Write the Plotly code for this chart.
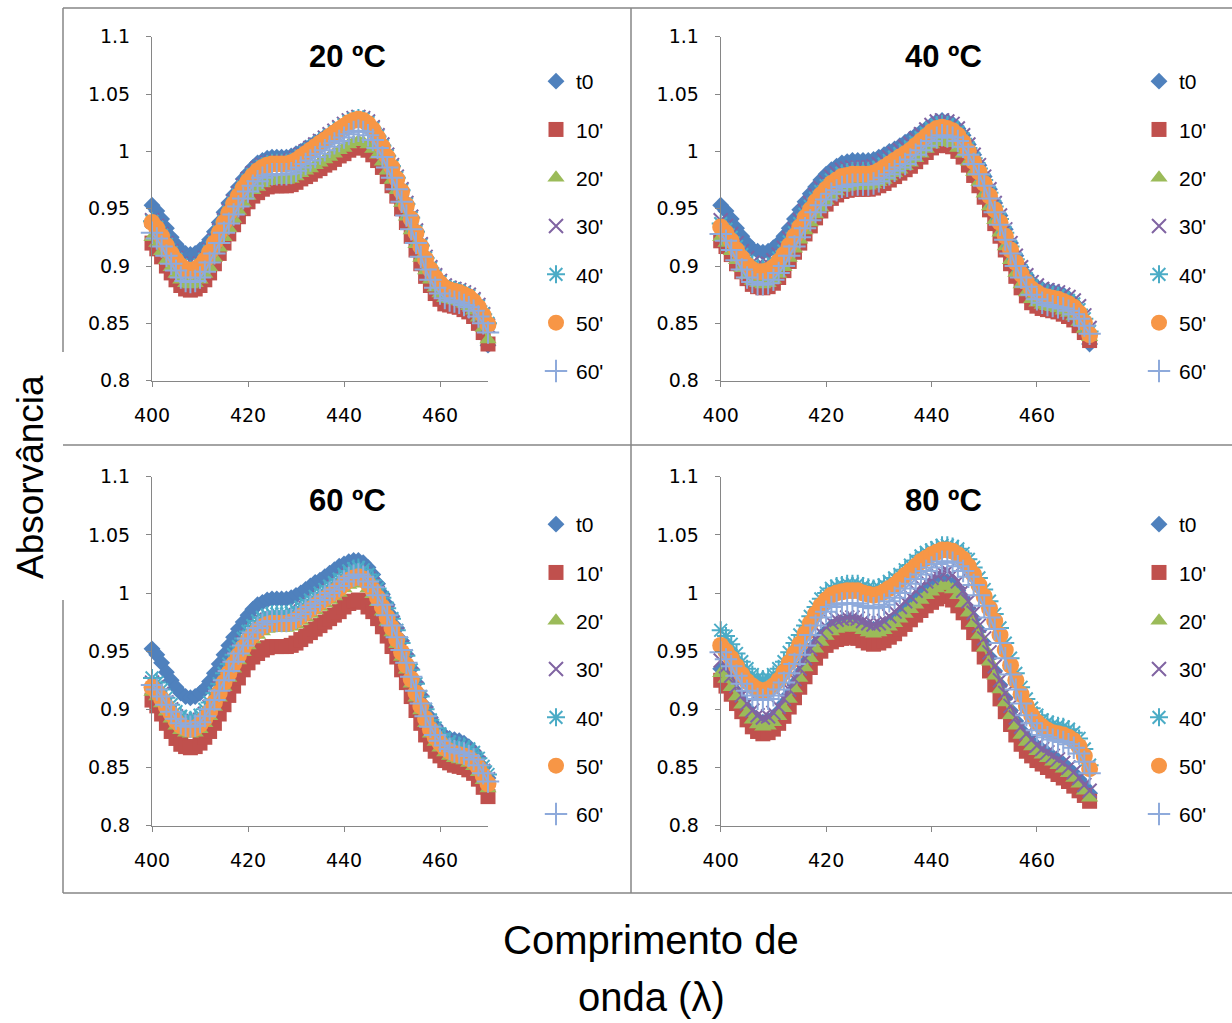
import plotly.graph_objects as go

# ---------------------------------------------------------------- data ----
WAVELENGTH_NM = list(range(400, 471))
SERIES_LABELS = ["t0", "10'", "20'", "30'", "40'", "50'", "60'"]
PANEL_TITLES = ["20 ºC", "40 ºC", "60 ºC", "80 ºC"]
X_TICKS = [400, 420, 440, 460]
Y_TICKS = [0.8, 0.85, 0.9, 0.95, 1.0, 1.05, 1.1]
Y_TICK_TEXT = ["0.8", "0.85", "0.9", "0.95", "1", "1.05", "1.1"]
Y_TITLE = "Absorvância"
X_TITLE_LINES = ["Comprimento de", "onda (λ)"]

# 20 ºC
T20_T0 = [0.953, 0.948, 0.941, 0.933, 0.925, 0.919, 0.914, 0.911, 0.910, 0.911,
          0.914, 0.917, 0.923, 0.930, 0.938, 0.947, 0.955, 0.962, 0.969, 0.976,
          0.981, 0.986, 0.990, 0.992, 0.994, 0.995, 0.995, 0.995, 0.995, 0.996,
          0.998, 1.000, 1.003, 1.005, 1.008, 1.010, 1.013, 1.015, 1.018, 1.020,
          1.023, 1.025, 1.027, 1.028, 1.027, 1.025, 1.021, 1.014, 1.006, 0.997,
          0.988, 0.978, 0.967, 0.955, 0.943, 0.931, 0.919, 0.908, 0.899, 0.892,
          0.887, 0.883, 0.881, 0.880, 0.879, 0.877, 0.875, 0.870, 0.862, 0.849,
          0.831]
T20_10 = [0.920, 0.915, 0.908, 0.900, 0.894, 0.888, 0.883, 0.880, 0.879, 0.880,
          0.883, 0.888, 0.894, 0.902, 0.911, 0.920, 0.928, 0.936, 0.943, 0.950,
          0.956, 0.961, 0.964, 0.967, 0.969, 0.970, 0.970, 0.970, 0.970, 0.971,
          0.973, 0.976, 0.978, 0.980, 0.983, 0.985, 0.988, 0.990, 0.993, 0.996,
          0.998, 1.001, 1.003, 1.004, 1.003, 1.001, 0.997, 0.992, 0.986, 0.978,
          0.970, 0.961, 0.950, 0.938, 0.926, 0.914, 0.902, 0.891, 0.883, 0.876,
          0.871, 0.867, 0.866, 0.865, 0.864, 0.862, 0.860, 0.856, 0.850, 0.842,
          0.832]
T20_20 = [0.925, 0.920, 0.913, 0.905, 0.899, 0.893, 0.888, 0.885, 0.884, 0.885,
          0.888, 0.893, 0.899, 0.907, 0.916, 0.925, 0.933, 0.941, 0.948, 0.955,
          0.961, 0.966, 0.969, 0.972, 0.974, 0.975, 0.975, 0.975, 0.975, 0.976,
          0.978, 0.981, 0.983, 0.985, 0.988, 0.990, 0.993, 0.995, 0.998, 1.001,
          1.003, 1.006, 1.008, 1.009, 1.008, 1.006, 1.002, 0.997, 0.991, 0.983,
          0.975, 0.966, 0.955, 0.943, 0.931, 0.919, 0.907, 0.896, 0.888, 0.881,
          0.876, 0.872, 0.871, 0.870, 0.869, 0.867, 0.865, 0.861, 0.855, 0.846,
          0.836]
T20_30 = [0.940, 0.935, 0.928, 0.920, 0.913, 0.907, 0.902, 0.899, 0.898, 0.899,
          0.902, 0.907, 0.914, 0.922, 0.931, 0.940, 0.948, 0.956, 0.963, 0.970,
          0.976, 0.981, 0.985, 0.988, 0.990, 0.991, 0.991, 0.991, 0.991, 0.992,
          0.994, 0.997, 1.000, 1.003, 1.006, 1.009, 1.012, 1.015, 1.018, 1.021,
          1.024, 1.027, 1.029, 1.030, 1.029, 1.026, 1.021, 1.014, 1.006, 0.997,
          0.988, 0.978, 0.967, 0.955, 0.943, 0.931, 0.919, 0.908, 0.899, 0.892,
          0.887, 0.883, 0.881, 0.880, 0.879, 0.877, 0.875, 0.871, 0.866, 0.858,
          0.848]
T20_40 = [0.939, 0.934, 0.927, 0.919, 0.912, 0.906, 0.901, 0.898, 0.897, 0.898,
          0.901, 0.906, 0.913, 0.921, 0.930, 0.939, 0.947, 0.955, 0.962, 0.969,
          0.975, 0.980, 0.984, 0.987, 0.989, 0.990, 0.990, 0.990, 0.990, 0.991,
          0.993, 0.996, 0.999, 1.002, 1.005, 1.008, 1.011, 1.014, 1.017, 1.020,
          1.023, 1.026, 1.028, 1.029, 1.028, 1.025, 1.020, 1.013, 1.005, 0.996,
          0.987, 0.977, 0.966, 0.954, 0.942, 0.930, 0.918, 0.907, 0.898, 0.891,
          0.886, 0.882, 0.880, 0.879, 0.878, 0.876, 0.874, 0.870, 0.865, 0.858,
          0.850]
T20_50 = [0.938, 0.933, 0.926, 0.918, 0.911, 0.905, 0.900, 0.897, 0.896, 0.897,
          0.900, 0.905, 0.912, 0.920, 0.929, 0.938, 0.946, 0.954, 0.961, 0.968,
          0.974, 0.979, 0.983, 0.986, 0.988, 0.989, 0.989, 0.989, 0.989, 0.990,
          0.992, 0.995, 0.998, 1.001, 1.004, 1.007, 1.010, 1.013, 1.016, 1.019,
          1.022, 1.025, 1.027, 1.028, 1.027, 1.024, 1.019, 1.012, 1.004, 0.995,
          0.986, 0.976, 0.965, 0.953, 0.941, 0.929, 0.917, 0.906, 0.897, 0.890,
          0.885, 0.881, 0.879, 0.878, 0.877, 0.875, 0.873, 0.869, 0.864, 0.857,
          0.849]
T20_60 = [0.929, 0.924, 0.917, 0.909, 0.902, 0.896, 0.890, 0.887, 0.886, 0.887,
          0.890, 0.895, 0.903, 0.911, 0.920, 0.929, 0.937, 0.945, 0.952, 0.959,
          0.965, 0.970, 0.974, 0.977, 0.979, 0.980, 0.980, 0.980, 0.980, 0.981,
          0.983, 0.986, 0.989, 0.992, 0.995, 0.998, 1.001, 1.004, 1.007, 1.009,
          1.012, 1.015, 1.017, 1.018, 1.017, 1.014, 1.010, 1.003, 0.995, 0.986,
          0.977, 0.967, 0.956, 0.944, 0.932, 0.920, 0.908, 0.897, 0.888, 0.881,
          0.876, 0.872, 0.870, 0.869, 0.868, 0.866, 0.864, 0.861, 0.856, 0.850,
          0.842]

# 40 ºC
T40_T0 = [0.953, 0.948, 0.941, 0.933, 0.926, 0.920, 0.915, 0.913, 0.912, 0.913,
          0.916, 0.920, 0.926, 0.933, 0.941, 0.949, 0.956, 0.963, 0.969, 0.975,
          0.980, 0.984, 0.987, 0.990, 0.991, 0.992, 0.992, 0.992, 0.992, 0.993,
          0.995, 0.997, 1.000, 1.002, 1.005, 1.008, 1.011, 1.014, 1.017, 1.020,
          1.023, 1.026, 1.027, 1.026, 1.024, 1.020, 1.014, 1.006, 0.997, 0.988,
          0.978, 0.967, 0.955, 0.944, 0.932, 0.920, 0.909, 0.899, 0.892, 0.886,
          0.882, 0.880, 0.879, 0.878, 0.877, 0.875, 0.872, 0.868, 0.861, 0.849,
          0.832]
T40_10 = [0.922, 0.917, 0.910, 0.902, 0.895, 0.889, 0.884, 0.882, 0.881, 0.882,
          0.885, 0.890, 0.896, 0.904, 0.912, 0.920, 0.928, 0.935, 0.942, 0.948,
          0.954, 0.959, 0.962, 0.965, 0.966, 0.967, 0.967, 0.967, 0.967, 0.968,
          0.970, 0.972, 0.975, 0.978, 0.981, 0.984, 0.987, 0.991, 0.995, 0.999,
          1.003, 1.005, 1.006, 1.005, 1.004, 1.000, 0.995, 0.988, 0.979, 0.970,
          0.960, 0.949, 0.937, 0.926, 0.914, 0.902, 0.891, 0.881, 0.874, 0.868,
          0.865, 0.863, 0.862, 0.861, 0.860, 0.858, 0.856, 0.853, 0.848, 0.842,
          0.835]
T40_20 = [0.925, 0.920, 0.913, 0.905, 0.898, 0.892, 0.887, 0.885, 0.884, 0.885,
          0.888, 0.893, 0.899, 0.907, 0.915, 0.923, 0.931, 0.938, 0.945, 0.951,
          0.957, 0.962, 0.965, 0.968, 0.969, 0.970, 0.970, 0.970, 0.970, 0.971,
          0.973, 0.975, 0.978, 0.981, 0.984, 0.987, 0.990, 0.994, 0.998, 1.002,
          1.006, 1.008, 1.009, 1.008, 1.007, 1.003, 0.998, 0.991, 0.982, 0.973,
          0.963, 0.952, 0.940, 0.929, 0.917, 0.905, 0.894, 0.884, 0.877, 0.871,
          0.868, 0.866, 0.865, 0.864, 0.863, 0.861, 0.859, 0.856, 0.851, 0.845,
          0.838]
T40_30 = [0.940, 0.935, 0.928, 0.920, 0.913, 0.907, 0.903, 0.901, 0.901, 0.902,
          0.905, 0.910, 0.916, 0.924, 0.932, 0.940, 0.948, 0.955, 0.962, 0.968,
          0.973, 0.978, 0.981, 0.984, 0.985, 0.986, 0.986, 0.986, 0.986, 0.987,
          0.989, 0.992, 0.995, 0.998, 1.001, 1.004, 1.007, 1.011, 1.015, 1.019,
          1.023, 1.026, 1.027, 1.026, 1.024, 1.020, 1.014, 1.006, 0.997, 0.988,
          0.978, 0.967, 0.955, 0.944, 0.932, 0.920, 0.909, 0.899, 0.892, 0.886,
          0.883, 0.880, 0.879, 0.878, 0.877, 0.875, 0.873, 0.870, 0.865, 0.857,
          0.846]
T40_40 = [0.937, 0.932, 0.925, 0.917, 0.910, 0.904, 0.900, 0.898, 0.898, 0.899,
          0.902, 0.907, 0.913, 0.921, 0.929, 0.937, 0.945, 0.952, 0.959, 0.965,
          0.970, 0.975, 0.978, 0.981, 0.982, 0.983, 0.983, 0.983, 0.983, 0.984,
          0.986, 0.989, 0.992, 0.995, 0.998, 1.001, 1.004, 1.008, 1.012, 1.016,
          1.020, 1.023, 1.024, 1.023, 1.021, 1.017, 1.011, 1.003, 0.994, 0.985,
          0.975, 0.964, 0.952, 0.941, 0.929, 0.917, 0.906, 0.896, 0.889, 0.883,
          0.880, 0.877, 0.876, 0.875, 0.874, 0.872, 0.870, 0.867, 0.862, 0.854,
          0.843]
T40_50 = [0.934, 0.929, 0.922, 0.914, 0.907, 0.901, 0.897, 0.895, 0.895, 0.896,
          0.899, 0.904, 0.910, 0.918, 0.926, 0.934, 0.942, 0.949, 0.956, 0.962,
          0.967, 0.972, 0.975, 0.978, 0.979, 0.980, 0.980, 0.980, 0.980, 0.981,
          0.983, 0.986, 0.989, 0.992, 0.995, 0.998, 1.001, 1.005, 1.009, 1.013,
          1.017, 1.020, 1.021, 1.020, 1.018, 1.014, 1.008, 1.000, 0.991, 0.982,
          0.972, 0.961, 0.949, 0.938, 0.926, 0.914, 0.903, 0.893, 0.886, 0.880,
          0.877, 0.874, 0.873, 0.872, 0.871, 0.869, 0.867, 0.864, 0.859, 0.851,
          0.840]
T40_60 = [0.928, 0.922, 0.914, 0.905, 0.897, 0.890, 0.886, 0.884, 0.884, 0.885,
          0.888, 0.894, 0.900, 0.909, 0.917, 0.925, 0.933, 0.940, 0.947, 0.953,
          0.958, 0.963, 0.966, 0.969, 0.970, 0.971, 0.971, 0.971, 0.971, 0.972,
          0.974, 0.977, 0.980, 0.983, 0.986, 0.989, 0.993, 0.997, 1.001, 1.005,
          1.009, 1.012, 1.014, 1.013, 1.012, 1.009, 1.004, 0.997, 0.989, 0.980,
          0.970, 0.959, 0.947, 0.936, 0.923, 0.911, 0.900, 0.890, 0.882, 0.875,
          0.871, 0.868, 0.866, 0.865, 0.864, 0.863, 0.861, 0.858, 0.854, 0.848,
          0.841]

# 60 ºC
T60_T0 = [0.952, 0.947, 0.940, 0.932, 0.925, 0.919, 0.914, 0.911, 0.910, 0.911,
          0.914, 0.918, 0.924, 0.931, 0.939, 0.947, 0.955, 0.962, 0.969, 0.975,
          0.981, 0.986, 0.990, 0.992, 0.994, 0.995, 0.995, 0.995, 0.995, 0.996,
          0.998, 1.000, 1.003, 1.006, 1.009, 1.011, 1.014, 1.017, 1.020, 1.023,
          1.025, 1.027, 1.028, 1.028, 1.026, 1.022, 1.016, 1.008, 0.999, 0.990,
          0.980, 0.970, 0.959, 0.947, 0.935, 0.923, 0.912, 0.902, 0.893, 0.886,
          0.881, 0.877, 0.875, 0.874, 0.873, 0.871, 0.868, 0.864, 0.858, 0.850,
          0.841]
T60_10 = [0.908, 0.903, 0.896, 0.888, 0.881, 0.875, 0.870, 0.868, 0.867, 0.868,
          0.871, 0.876, 0.881, 0.888, 0.896, 0.904, 0.912, 0.920, 0.927, 0.934,
          0.940, 0.945, 0.948, 0.951, 0.953, 0.954, 0.954, 0.954, 0.954, 0.955,
          0.957, 0.960, 0.963, 0.966, 0.969, 0.972, 0.975, 0.978, 0.981, 0.984,
          0.988, 0.991, 0.993, 0.994, 0.992, 0.988, 0.984, 0.978, 0.971, 0.963,
          0.954, 0.945, 0.934, 0.923, 0.911, 0.899, 0.888, 0.878, 0.870, 0.864,
          0.860, 0.856, 0.854, 0.852, 0.851, 0.850, 0.848, 0.845, 0.840, 0.833,
          0.825]
T60_20 = [0.915, 0.911, 0.905, 0.898, 0.892, 0.886, 0.882, 0.880, 0.879, 0.880,
          0.883, 0.888, 0.894, 0.902, 0.910, 0.919, 0.927, 0.935, 0.942, 0.949,
          0.955, 0.960, 0.964, 0.967, 0.969, 0.970, 0.970, 0.970, 0.970, 0.971,
          0.973, 0.976, 0.979, 0.982, 0.985, 0.988, 0.991, 0.994, 0.997, 1.000,
          1.004, 1.007, 1.009, 1.010, 1.008, 1.004, 0.999, 0.992, 0.984, 0.975,
          0.966, 0.956, 0.945, 0.934, 0.922, 0.910, 0.899, 0.888, 0.879, 0.872,
          0.867, 0.863, 0.860, 0.858, 0.857, 0.856, 0.854, 0.851, 0.846, 0.839,
          0.832]
T60_30 = [0.923, 0.919, 0.913, 0.906, 0.900, 0.894, 0.890, 0.888, 0.887, 0.888,
          0.891, 0.896, 0.902, 0.910, 0.918, 0.927, 0.935, 0.943, 0.950, 0.957,
          0.963, 0.968, 0.972, 0.975, 0.977, 0.978, 0.978, 0.978, 0.978, 0.979,
          0.981, 0.984, 0.987, 0.990, 0.993, 0.996, 0.999, 1.002, 1.005, 1.008,
          1.012, 1.015, 1.017, 1.018, 1.016, 1.012, 1.007, 1.000, 0.992, 0.983,
          0.974, 0.964, 0.953, 0.942, 0.930, 0.918, 0.907, 0.896, 0.887, 0.880,
          0.875, 0.871, 0.868, 0.866, 0.865, 0.864, 0.862, 0.859, 0.854, 0.847,
          0.840]
T60_40 = [0.927, 0.923, 0.917, 0.910, 0.904, 0.898, 0.894, 0.892, 0.891, 0.892,
          0.895, 0.900, 0.906, 0.914, 0.922, 0.931, 0.939, 0.947, 0.954, 0.961,
          0.967, 0.972, 0.976, 0.979, 0.981, 0.982, 0.982, 0.982, 0.982, 0.983,
          0.985, 0.988, 0.991, 0.994, 0.997, 1.000, 1.003, 1.006, 1.009, 1.012,
          1.016, 1.019, 1.021, 1.022, 1.020, 1.016, 1.011, 1.004, 0.996, 0.987,
          0.978, 0.968, 0.957, 0.946, 0.934, 0.922, 0.911, 0.900, 0.891, 0.884,
          0.879, 0.875, 0.872, 0.870, 0.869, 0.868, 0.866, 0.863, 0.858, 0.851,
          0.844]
T60_50 = [0.919, 0.915, 0.909, 0.902, 0.896, 0.890, 0.886, 0.884, 0.883, 0.884,
          0.887, 0.892, 0.898, 0.906, 0.914, 0.923, 0.931, 0.939, 0.946, 0.953,
          0.959, 0.964, 0.968, 0.971, 0.973, 0.974, 0.974, 0.974, 0.974, 0.975,
          0.977, 0.980, 0.983, 0.986, 0.989, 0.992, 0.995, 0.998, 1.001, 1.004,
          1.008, 1.011, 1.013, 1.014, 1.012, 1.008, 1.003, 0.996, 0.988, 0.979,
          0.970, 0.960, 0.949, 0.938, 0.926, 0.914, 0.903, 0.892, 0.883, 0.876,
          0.871, 0.867, 0.864, 0.862, 0.861, 0.860, 0.858, 0.855, 0.850, 0.843,
          0.836]
T60_60 = [0.921, 0.917, 0.911, 0.904, 0.898, 0.892, 0.888, 0.886, 0.885, 0.886,
          0.889, 0.894, 0.900, 0.908, 0.916, 0.925, 0.933, 0.941, 0.948, 0.955,
          0.961, 0.966, 0.970, 0.973, 0.975, 0.976, 0.976, 0.976, 0.976, 0.977,
          0.979, 0.982, 0.985, 0.988, 0.991, 0.994, 0.997, 1.000, 1.003, 1.006,
          1.010, 1.013, 1.015, 1.016, 1.014, 1.010, 1.005, 0.998, 0.990, 0.981,
          0.972, 0.962, 0.951, 0.940, 0.928, 0.916, 0.905, 0.894, 0.885, 0.878,
          0.873, 0.869, 0.866, 0.864, 0.863, 0.862, 0.860, 0.857, 0.852, 0.845,
          0.838]

# 80 ºC
T80_T0 = [0.935, 0.930, 0.923, 0.915, 0.908, 0.901, 0.895, 0.891, 0.889, 0.890,
          0.893, 0.898, 0.905, 0.913, 0.922, 0.931, 0.940, 0.948, 0.956, 0.962,
          0.967, 0.971, 0.973, 0.974, 0.975, 0.975, 0.974, 0.972, 0.970, 0.969,
          0.970, 0.972, 0.975, 0.978, 0.982, 0.986, 0.990, 0.994, 0.998, 1.002,
          1.005, 1.008, 1.010, 1.010, 1.007, 1.002, 0.995, 0.987, 0.978, 0.968,
          0.957, 0.945, 0.933, 0.921, 0.910, 0.899, 0.890, 0.882, 0.876, 0.872,
          0.868, 0.865, 0.862, 0.859, 0.856, 0.853, 0.849, 0.845, 0.840, 0.834,
          0.828]
T80_10 = [0.925, 0.920, 0.913, 0.905, 0.898, 0.891, 0.885, 0.881, 0.879, 0.880,
          0.883, 0.888, 0.894, 0.902, 0.910, 0.919, 0.928, 0.936, 0.944, 0.950,
          0.955, 0.958, 0.960, 0.961, 0.962, 0.962, 0.961, 0.959, 0.957, 0.956,
          0.957, 0.959, 0.962, 0.965, 0.969, 0.973, 0.977, 0.981, 0.985, 0.989,
          0.992, 0.995, 0.997, 0.997, 0.994, 0.989, 0.983, 0.975, 0.966, 0.956,
          0.945, 0.933, 0.921, 0.909, 0.898, 0.887, 0.878, 0.870, 0.864, 0.860,
          0.856, 0.853, 0.850, 0.847, 0.844, 0.841, 0.838, 0.834, 0.830, 0.826,
          0.821]
T80_20 = [0.931, 0.926, 0.919, 0.911, 0.904, 0.897, 0.891, 0.887, 0.885, 0.886,
          0.889, 0.894, 0.901, 0.909, 0.918, 0.927, 0.936, 0.944, 0.952, 0.958,
          0.963, 0.967, 0.969, 0.970, 0.971, 0.971, 0.970, 0.968, 0.966, 0.965,
          0.966, 0.968, 0.971, 0.974, 0.978, 0.982, 0.986, 0.990, 0.994, 0.998,
          1.001, 1.004, 1.006, 1.006, 1.003, 0.998, 0.991, 0.983, 0.974, 0.964,
          0.953, 0.941, 0.929, 0.917, 0.906, 0.895, 0.886, 0.878, 0.872, 0.868,
          0.864, 0.861, 0.858, 0.855, 0.852, 0.849, 0.845, 0.841, 0.836, 0.830,
          0.824]
T80_30 = [0.942, 0.937, 0.929, 0.920, 0.912, 0.905, 0.899, 0.895, 0.893, 0.894,
          0.897, 0.902, 0.909, 0.917, 0.926, 0.935, 0.944, 0.952, 0.960, 0.966,
          0.971, 0.975, 0.977, 0.978, 0.979, 0.979, 0.978, 0.976, 0.974, 0.973,
          0.974, 0.976, 0.980, 0.984, 0.988, 0.993, 0.997, 1.002, 1.006, 1.010,
          1.013, 1.016, 1.018, 1.019, 1.016, 1.010, 1.002, 0.993, 0.983, 0.972,
          0.961, 0.949, 0.937, 0.925, 0.914, 0.903, 0.893, 0.885, 0.879, 0.874,
          0.869, 0.866, 0.863, 0.860, 0.857, 0.854, 0.850, 0.846, 0.841, 0.835,
          0.830]
T80_40 = [0.968, 0.963, 0.956, 0.948, 0.941, 0.935, 0.930, 0.927, 0.926, 0.927,
          0.930, 0.935, 0.941, 0.949, 0.957, 0.964, 0.972, 0.980, 0.988, 0.995,
          1.000, 1.004, 1.006, 1.007, 1.008, 1.008, 1.008, 1.006, 1.005, 1.004,
          1.005, 1.007, 1.010, 1.013, 1.016, 1.020, 1.024, 1.028, 1.032, 1.035,
          1.037, 1.039, 1.041, 1.041, 1.040, 1.038, 1.034, 1.029, 1.022, 1.013,
          1.003, 0.993, 0.982, 0.970, 0.957, 0.944, 0.931, 0.919, 0.909, 0.901,
          0.895, 0.891, 0.889, 0.887, 0.886, 0.885, 0.883, 0.880, 0.875, 0.866,
          0.852]
T80_50 = [0.955, 0.950, 0.944, 0.937, 0.930, 0.924, 0.920, 0.917, 0.916, 0.917,
          0.920, 0.925, 0.932, 0.940, 0.948, 0.956, 0.965, 0.974, 0.982, 0.989,
          0.994, 0.998, 1.000, 1.001, 1.002, 1.002, 1.002, 1.000, 0.999, 0.998,
          0.999, 1.001, 1.004, 1.007, 1.011, 1.015, 1.019, 1.023, 1.027, 1.030,
          1.033, 1.035, 1.037, 1.037, 1.036, 1.033, 1.029, 1.023, 1.016, 1.007,
          0.997, 0.987, 0.976, 0.964, 0.951, 0.938, 0.925, 0.913, 0.903, 0.895,
          0.889, 0.885, 0.882, 0.880, 0.879, 0.878, 0.876, 0.873, 0.868, 0.860,
          0.849]
T80_60 = [0.949, 0.943, 0.937, 0.929, 0.922, 0.916, 0.912, 0.909, 0.908, 0.909,
          0.912, 0.917, 0.923, 0.931, 0.939, 0.947, 0.955, 0.964, 0.972, 0.979,
          0.984, 0.988, 0.990, 0.991, 0.991, 0.991, 0.991, 0.989, 0.988, 0.987,
          0.988, 0.990, 0.993, 0.996, 1.000, 1.004, 1.008, 1.012, 1.016, 1.019,
          1.022, 1.025, 1.027, 1.027, 1.026, 1.023, 1.019, 1.014, 1.007, 0.998,
          0.989, 0.979, 0.969, 0.957, 0.944, 0.930, 0.917, 0.905, 0.895, 0.888,
          0.882, 0.878, 0.876, 0.874, 0.873, 0.872, 0.870, 0.867, 0.862, 0.855,
          0.845]

PANEL_SERIES = [
    [T20_T0, T20_10, T20_20, T20_30, T20_40, T20_50, T20_60],
    [T40_T0, T40_10, T40_20, T40_30, T40_40, T40_50, T40_60],
    [T60_T0, T60_10, T60_20, T60_30, T60_40, T60_50, T60_60],
    [T80_T0, T80_10, T80_20, T80_30, T80_40, T80_50, T80_60],
]

# -------------------------------------------------------------- styling ----
W, H = 1232, 1023
GRAY = "#868686"
TICK_FONT = dict(family="DejaVu Sans, Verdana, sans-serif", size=19, color="#000000")
TEXT_FAMILY = "Liberation Sans, Arial, sans-serif"

SERIES_COLORS = ["#4F81BD", "#C0504D", "#9BBB59", "#8064A2", "#4BACC6", "#F79646", "#8EAADB"]
SERIES_SYMBOLS = ["diamond", "square", "triangle-up", "x-thin", "asterisk", "circle", "cross-thin"]
SERIES_SIZES = [13, 15, 15, 14, 15, 17, 16]
LINE_ONLY = {"x-thin", "asterisk", "cross-thin"}

# plot-area boxes in pixels: (left, right, top, bottom)
PANEL_BOXES = [
    (152.0, 488.0, 36.7, 380.7),
    (720.7, 1089.6, 36.7, 380.7),
    (152.0, 488.0, 476.7, 825.7),
    (720.7, 1089.6, 476.7, 825.7),
]
TITLE_POS = [(347, 57), (943, 57), (347, 500), (943, 500)]
LEGEND_POS = [(536, 61), (1139, 61), (536, 504), (1139, 504)]


def fx(px):
    return px / W


def fy(py):
    return 1 - py / H


fig = go.Figure()

for p, series in enumerate(PANEL_SERIES):
    suffix = "" if p == 0 else str(p + 1)
    legend_id = "legend" if p == 0 else f"legend{p + 1}"
    for i, values in enumerate(series):
        sym = SERIES_SYMBOLS[i]
        col = SERIES_COLORS[i]
        if sym in LINE_ONLY:
            marker = dict(symbol=sym, size=SERIES_SIZES[i], color=col,
                          line=dict(width=2, color=col))
        else:
            marker = dict(symbol=sym, size=SERIES_SIZES[i], color=col,
                          line=dict(width=0))
        # connecting line (kept out of the legend) then the markers on top
        fig.add_trace(go.Scatter(
            x=WAVELENGTH_NM, y=values, mode="lines",
            line=dict(color=col, width=2), showlegend=False, hoverinfo="skip",
            xaxis="x" + suffix, yaxis="y" + suffix, cliponaxis=False,
        ))
        fig.add_trace(go.Scatter(
            x=WAVELENGTH_NM, y=values, name=SERIES_LABELS[i],
            mode="markers", marker=marker,
            xaxis="x" + suffix, yaxis="y" + suffix,
            legend=legend_id, legendgroup=f"p{p}s{i}",
            cliponaxis=False,
        ))

    left, right, top, bottom = PANEL_BOXES[p]
    axis_common = dict(showline=True, linecolor=GRAY, linewidth=1,
                       ticks="outside", ticklen=5, tickwidth=1, tickcolor=GRAY,
                       showgrid=False, zeroline=False, tickfont=TICK_FONT,
                       ticklabelstandoff=12, automargin=False)
    fig.layout["xaxis" + suffix] = dict(
        domain=[fx(left), fx(right)], anchor="y" + suffix,
        range=[400, 470], tickvals=X_TICKS, **axis_common)
    fig.layout["yaxis" + suffix] = dict(
        domain=[fy(bottom), fy(top)], anchor="x" + suffix,
        range=[0.8, 1.1], tickvals=Y_TICKS, ticktext=Y_TICK_TEXT, **axis_common)

    lx, ly = LEGEND_POS[p]
    fig.layout[legend_id] = dict(
        x=fx(lx), y=fy(ly), xanchor="left", yanchor="top",
        bgcolor="rgba(0,0,0,0)", borderwidth=0,
        font=dict(family=TEXT_FAMILY, size=21, color="#000000"),
        tracegroupgap=18, itemsizing="trace", traceorder="grouped",
    )

annotations = []
for p, title in enumerate(PANEL_TITLES):
    tx, ty = TITLE_POS[p]
    annotations.append(dict(
        x=fx(tx), y=fy(ty), xref="paper", yref="paper", text=f"<b>{title}</b>",
        showarrow=False, xanchor="center", yanchor="middle",
        font=dict(family=TEXT_FAMILY, size=31, color="#000000")))

annotations.append(dict(
    x=fx(30), y=fy(477), xref="paper", yref="paper", text=Y_TITLE,
    textangle=-90, showarrow=False, xanchor="center", yanchor="middle",
    font=dict(family=TEXT_FAMILY, size=37, color="#000000")))
for line_text, ly in zip(X_TITLE_LINES, [940, 997]):
    annotations.append(dict(
        x=fx(651), y=fy(ly), xref="paper", yref="paper", text=line_text,
        showarrow=False, xanchor="center", yanchor="middle",
        font=dict(family=TEXT_FAMILY, size=40, color="#000000")))

# panel frame lines (pixel coordinates)
FRAME_SEGMENTS = [
    (63, 8, 1232, 8), (63, 445, 1232, 445), (63, 893, 1232, 893),
    (631, 8, 631, 893), (63, 8, 63, 352), (63, 600, 63, 893),
]
shapes = [dict(type="line", xref="paper", yref="paper",
               x0=fx(a), y0=fy(b), x1=fx(c), y1=fy(d),
               line=dict(color=GRAY, width=1.5))
          for a, b, c, d in FRAME_SEGMENTS]

fig.update_layout(
    width=W, height=H,
    margin=dict(l=0, r=0, t=0, b=0, pad=0, autoexpand=False),
    paper_bgcolor="white", plot_bgcolor="white",
    showlegend=True, annotations=annotations, shapes=shapes,
)

fig.write_html("out.html")
